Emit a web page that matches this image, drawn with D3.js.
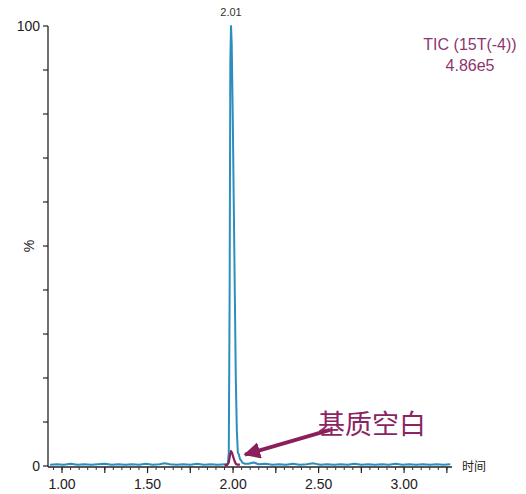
<!DOCTYPE html>
<html>
<head>
<meta charset="utf-8">
<script src="https://cdn.jsdelivr.net/npm/d3@7"></script>
<style>
  body { margin: 0; background: #fff; }
  text { font-family: "Liberation Sans", Arial, sans-serif; }
</style>
</head>
<body>
<script>
var width = 526;
var height = 494;

var margin = ({ top: 26, right: 74, bottom: 28, left: 48 });

// blue trace (sample), time in min, intensity in %
var blueTime = [0.93, 0.97, 1.01, 1.05, 1.09, 1.13, 1.17, 1.21, 1.25, 1.29, 1.33, 1.37, 1.41, 1.45, 1.49,
    1.53, 1.57, 1.60, 1.63, 1.67, 1.71, 1.75, 1.79, 1.83, 1.87, 1.91, 1.95,
    1.962, 1.970, 1.975, 1.980, 1.984, 1.988, 1.992, 1.998, 2.004, 2.010, 2.016, 2.022, 2.028, 2.034,
    2.040, 2.048, 2.056, 2.070,
    2.09, 2.12, 2.15, 2.19, 2.23, 2.27, 2.31, 2.35, 2.39, 2.43, 2.47, 2.51, 2.55, 2.59, 2.63, 2.67,
    2.71, 2.75, 2.79, 2.83, 2.87, 2.91, 2.95, 2.99, 3.03, 3.07, 3.11, 3.15, 3.19, 3.23, 3.27];
var bluePct = [0.3, 0.4, 0.3, 0.5, 0.3, 0.4, 0.3, 0.4, 0.5, 0.3, 0.4, 0.3, 0.4, 0.3, 0.5,
    0.3, 0.4, 0.6, 0.4, 0.3, 0.4, 0.3, 0.5, 0.3, 0.4, 0.3, 0.4,
    0.4, 0.7, 3, 40, 92, 100, 96, 80, 60, 40, 20, 8, 3, 2.6,
    1.6, 1.2, 0.7, 0.5,
    0.5, 0.8, 0.4, 0.5, 0.3, 0.4, 0.3, 0.5, 0.3, 0.4, 0.6, 0.3, 0.4, 0.3, 0.4, 0.3,
    0.5, 0.3, 0.4, 0.3, 0.4, 0.3, 0.5, 0.3, 0.4, 0.3, 0.4, 0.3, 0.4, 0.3, 0.4];

// magenta trace (matrix blank), only the peak region shows above the blue baseline
var blankTime = [1.950, 1.965, 1.975, 1.982, 1.988, 1.994, 2.000, 2.008, 2.016, 2.025, 2.040];
var blankPct = [0.2, 0.2, 0.8, 2.5, 3.4, 3.0, 2.2, 1.2, 0.5, 0.3, 0.3];

var xTickLabels = [1.00, 1.50, 2.00, 2.50, 3.00];
var yTickLabels = [0, 100];

var peakLabel = { t: 1.988, text: '2.01' };
var ticText = ['TIC (15T(-4))', '4.86e5'];
var blankLabel = '基质空白';
var arrowFrom = { t: 2.567, v: 8.2 };
var arrowTo = { t: 2.07, v: 2.6 };

var svg = d3.select('body')
    .append('svg')
    .attr('width', width)
    .attr('height', height);

var x = d3.scaleLinear()
    .domain([0.918, 3.28])
    .range([margin.left, width - margin.right]);

var y = d3.scaleLinear()
    .domain([0, 100])
    .range([height - margin.bottom, margin.top]);

// x axis: minor ticks every 0.05, major every 0.25
var minorTicks = d3.range(0.95, 3.28, 0.05);
var majorTicks = d3.range(1.0, 3.28, 0.25);

var xg = svg.append('g').attr('transform', `translate(0, ${y(0) + 1})`);
xg.append('line')
    .attr('x1', x.range()[0]).attr('x2', x.range()[1])
    .attr('stroke', '#222').attr('stroke-width', 1.3);
xg.selectAll('.minor').data(minorTicks).enter()
    .append('line')
    .attr('x1', function(d) { return x(d); })
    .attr('x2', function(d) { return x(d); })
    .attr('y1', 0).attr('y2', 3)
    .attr('stroke', '#333').attr('stroke-width', 1);
xg.selectAll('.major').data(majorTicks).enter()
    .append('line')
    .attr('x1', function(d) { return x(d); })
    .attr('x2', function(d) { return x(d); })
    .attr('y1', 0).attr('y2', 6)
    .attr('stroke', '#222').attr('stroke-width', 1.2);
xg.selectAll('text').data(xTickLabels).enter()
    .append('text')
    .attr('x', function(d) { return x(d); })
    .attr('y', 22)
    .attr('text-anchor', 'middle')
    .style('font-size', '14px')
    .attr('fill', '#222')
    .text(function(d) { return d.toFixed(2); });

svg.append('text')
    .attr('x', x.range()[1] + 10)
    .attr('y', y(0) + 5)
    .style('font-family', '"Noto Sans CJK SC", sans-serif')
    .style('font-size', '12px')
    .attr('fill', '#222')
    .text('时间');

// y axis
var yg = svg.append('g').attr('transform', `translate(${margin.left}, 0)`);
yg.append('line')
    .attr('y1', y(0) + 1).attr('y2', y(100))
    .attr('stroke', '#222').attr('stroke-width', 1.3);
yg.selectAll('.ytick').data(d3.range(0, 101, 10)).enter()
    .append('line')
    .attr('x1', -5).attr('x2', 0)
    .attr('y1', function(d) { return y(d); })
    .attr('y2', function(d) { return y(d); })
    .attr('stroke', '#222').attr('stroke-width', 1.2);
yg.selectAll('text').data(yTickLabels).enter()
    .append('text')
    .attr('x', -8)
    .attr('y', function(d) { return y(d) + 5; })
    .attr('text-anchor', 'end')
    .style('font-size', '14px')
    .attr('fill', '#222')
    .text(function(d) { return d; });
svg.append('text')
    .attr('transform', `translate(${margin.left - 14}, ${y(50)}) rotate(-90)`)
    .attr('text-anchor', 'middle')
    .style('font-size', '14px')
    .attr('fill', '#222')
    .text('%');

// traces
var line = d3.line()
    .x(function(d) { return x(d[0]); })
    .y(function(d) { return y(d[1]); });

svg.append('path')
    .datum(d3.zip(blueTime, bluePct))
    .attr('d', line)
    .attr('fill', 'none')
    .attr('stroke', '#2b8ebf')
    .attr('stroke-width', 2)
    .attr('stroke-linejoin', 'round');

svg.append('path')
    .datum(d3.zip(blankTime, blankPct))
    .attr('d', line)
    .attr('fill', 'none')
    .attr('stroke', '#8c1f5e')
    .attr('stroke-width', 2.2)
    .attr('stroke-linejoin', 'round');

svg.append('text')
    .attr('x', x(peakLabel.t))
    .attr('y', y(100) - 10)
    .attr('text-anchor', 'middle')
    .style('font-size', '11px')
    .attr('fill', '#333')
    .text(peakLabel.text);

// TIC label
svg.selectAll('.tic').data(ticText).enter()
    .append('text')
    .attr('x', 470)
    .attr('y', function(d, i) { return 50 + i * 21; })
    .attr('text-anchor', 'middle')
    .style('font-size', '16px')
    .attr('fill', '#8e356f')
    .text(function(d) { return d; });

// annotation arrow
svg.append('defs').append('marker')
    .attr('id', 'head')
    .attr('viewBox', '0 0 10 10')
    .attr('refX', 9).attr('refY', 5)
    .attr('markerWidth', 4.4).attr('markerHeight', 4.4)
    .attr('orient', 'auto')
    .append('path')
    .attr('d', 'M0,0 L10,5 L0,10 Z')
    .attr('fill', '#8a1f5c');

svg.append('line')
    .attr('x1', x(arrowFrom.t)).attr('y1', y(arrowFrom.v))
    .attr('x2', x(arrowTo.t)).attr('y2', y(arrowTo.v))
    .attr('stroke', '#8a1f5c')
    .attr('stroke-width', 3.8)
    .attr('marker-end', 'url(#head)');

svg.append('text')
    .attr('x', x(2.497))
    .attr('y', y(7.2))
    .style('font-family', '"Noto Sans CJK SC", sans-serif')
    .style('font-size', '27px')
    .attr('fill', '#8c2463')
    .text(blankLabel);
</script>
</body>
</html>
